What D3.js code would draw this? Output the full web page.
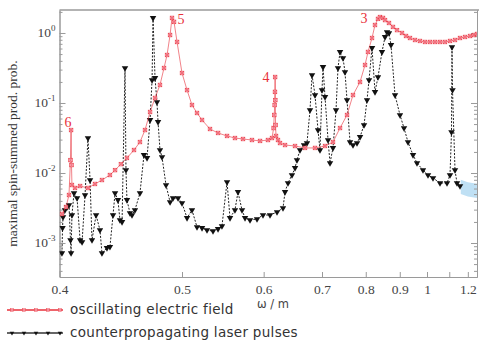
<!DOCTYPE html>
<html>
<head>
<meta charset="utf-8">
<script src="https://cdn.jsdelivr.net/npm/d3@7"></script>
<style>
  body { margin: 0; background: #fff; }
  svg { display: block; }
</style>
</head>
<body>
<div id="chart"></div>
<script>
// omega / m values and probabilities
var fieldOmega = [0.4016,0.4043,0.4063,0.4073,0.4077,0.4080,0.4083,0.4104,0.4139,0.4195,0.4246,0.4298,0.4359,0.4399,0.4446,0.4495,0.4554,0.4605,0.4649,0.4694,0.4739,0.4785,0.4823,0.4852,0.4881,0.4900,0.4920,0.4950,0.5000,0.5052,0.5104,0.5158,0.5213,0.5303,0.5397,0.5506,0.5606,0.5711,0.5833,0.5947,0.6064,0.6125,0.6150,0.6160,0.6166,0.6171,0.6173,0.6176,0.6180,0.6187,0.6218,0.6250,0.6331,0.6499,0.6676,0.6863,0.7061,0.7227,0.7380,0.7539,0.7680,0.7853,0.7981,0.8059,0.8167,0.8249,0.8333,0.8390,0.8478,0.8537,0.8657,0.8781,0.8909,0.9074,0.9211,0.9351,0.9533,0.9722,0.9919,1.0124,1.0338,1.056,1.079,1.1036,1.129,1.1557,1.1836,1.2129,1.2373,1.2564];
var fieldProb = [0.00260,0.00327,0.00485,0.0153,0.0411,0.0130,0.00674,0.00611,0.00652,0.00611,0.00697,0.00794,0.00936,0.0110,0.0134,0.0164,0.0213,0.0277,0.0411,0.0744,0.118,0.181,0.316,0.485,0.936,1.64,1.44,0.744,0.268,0.153,0.0936,0.0720,0.0572,0.0425,0.0373,0.0338,0.0316,0.0306,0.0296,0.0287,0.0296,0.0316,0.0439,0.0674,0.0936,0.144,0.235,0.110,0.0485,0.0338,0.0296,0.0268,0.0251,0.0243,0.0228,0.0228,0.0243,0.0277,0.0439,0.0674,0.130,0.1995,0.349,0.536,0.848,1.30,1.59,1.69,1.64,1.53,1.39,1.22,1.10,1.0,0.906,0.848,0.794,0.769,0.744,0.744,0.744,0.744,0.744,0.769,0.794,0.848,0.877,0.906,0.936,0.968];

var laserOmega = [0.4016,0.4020,0.4023,0.4036,0.4050,0.4063,0.4073,0.4077,0.4083,0.4097,0.4118,0.4139,0.4153,0.4174,0.4195,0.4210,0.4224,0.4254,0.4283,0.4298,0.4336,0.4359,0.4383,0.4399,0.4422,0.4438,0.4455,0.4479,0.4487,0.4495,0.4520,0.4537,0.4562,0.4605,0.4640,0.4667,0.4694,0.4712,0.4721,0.4739,0.4757,0.4767,0.4785,0.4804,0.4842,0.4881,0.4910,0.4960,0.5000,0.5052,0.5104,0.5158,0.5213,0.5269,0.5338,0.5397,0.5444,0.5506,0.5543,0.5606,0.5645,0.5698,0.5738,0.5806,0.5904,0.5990,0.6095,0.6203,0.6298,0.6331,0.6380,0.6447,0.6499,0.6533,0.6586,0.6658,0.6712,0.6768,0.6806,0.6863,0.6921,0.6960,0.7000,0.7020,0.7061,0.7123,0.7164,0.7227,0.7292,0.7335,0.7380,0.7447,0.7492,0.7539,0.7609,0.7680,0.7778,0.7853,0.7955,0.8033,0.8086,0.8167,0.8249,0.8333,0.8448,0.8537,0.8597,0.8657,0.8719,0.8845,0.9007,0.9142,0.9280,0.9460,0.9608,0.9839,1.0041,1.0251,1.0560,1.0889,1.1036,1.1111,1.1136,1.1162,1.1290,1.1395,1.1557];
var laserProb = [0.00072,0.00164,0.00235,0.00296,0.00327,0.00349,0.00110,0.00072,0.00251,0.00518,0.00439,0.00110,0.00103,0.00485,0.0316,0.00794,0.00110,0.00251,0.00153,0.00072,0.00085,0.00088,0.00251,0.00518,0.00412,0.00213,0.00200,0.316,0.0110,0.00412,0.00268,0.00251,0.00296,0.00518,0.0181,0.0164,0.0572,0.213,1.64,0.228,0.103,0.0536,0.0213,0.0169,0.00674,0.00385,0.00439,0.00439,0.00373,0.00228,0.00296,0.00169,0.00164,0.00153,0.00148,0.00159,0.00175,0.00744,0.00228,0.00296,0.00536,0.00296,0.00228,0.00213,0.00220,0.00251,0.00251,0.00277,0.00316,0.00536,0.00720,0.00936,0.0118,0.0153,0.0213,0.0251,0.0268,0.0794,0.251,0.130,0.0411,0.0213,0.153,0.327,0.122,0.0296,0.0139,0.0228,0.0794,0.316,0.536,0.439,0.277,0.110,0.0277,0.0251,0.0268,0.0327,0.0485,0.110,0.213,0.611,0.144,0.235,0.536,0.877,1.03,1.0,0.674,0.130,0.0674,0.0439,0.0277,0.0181,0.0139,0.0110,0.00936,0.00848,0.00720,0.00720,0.00936,0.0385,0.631,0.153,0.0110,0.00720,0.00652];

// pale blue patch at the right edge
var patchOmega = [1.16, 1.20, 1.256];
var patchLow = [0.0050, 0.0046, 0.0044];
var patchHigh = [0.0080, 0.0074, 0.0070];

var peakNames = ["6", "5", "4", "3"];
var peakOmega = [0.4077, 0.4900, 0.6173, 0.8390];
var peakProb = [0.0411, 1.64, 0.235, 1.69];

var xTicks = [0.4, 0.5, 0.6, 0.7, 0.8, 0.9, 1, 1.1, 1.2];
var xTickLabels = ["0.4", "0.5", "0.6", "0.7", "0.8", "0.9", "1", "", "1.2"];
var yMajor = [1, 0.1, 0.01, 0.001];
var yExp = ["0", "-1", "-2", "-3"];

var legendNames = ["oscillating electric field", "counterpropagating laser pulses"];

var W = 479, H = 342;
var mLeft = 59.5, mRight = 477, mTop = 10, mBottom = 277;

var svg = d3.select("#chart").append("svg")
  .attr("width", W).attr("height", H);

// x axis is linear in 1/omega
var xr = d3.scaleLinear().domain([1 / 0.4, 1 / 1.2564]).range([mLeft, mRight]);
var x = function(w) { return xr(1 / w); };
var y = d3.scaleLog().domain([3.27e-4, 2.13]).range([mBottom, mTop]);

var frameColor = "#9a9a9a";
var serif = "'Liberation Serif', 'Times New Roman', serif";

// light blue patch
svg.append("path")
  .datum(patchOmega.map(function(w, i) { return [w, patchLow[i], patchHigh[i]]; }))
  .attr("fill", "#bfe0f4")
  .attr("d", d3.area()
    .x(function(d) { return x(d[0]); })
    .y0(function(d) { return y(d[1]); })
    .y1(function(d) { return y(d[2]); }));

// axes
var xAxis = d3.axisBottom(xr)
  .tickValues(xTicks.map(function(t) { return 1 / t; }))
  .tickFormat(function(v, i) { return xTickLabels[i]; })
  .tickSizeInner(-5).tickSizeOuter(0).tickPadding(7);

var gx = svg.append("g")
  .attr("transform", "translate(0," + mBottom + ")")
  .call(xAxis);
gx.select(".domain").attr("stroke", frameColor);
gx.selectAll(".tick line").attr("stroke", frameColor);
gx.selectAll(".tick text")
  .attr("fill", "#444").style("font-family", serif).style("font-size", "13.5px");

var yMinor = [];
[0.0001, 0.001, 0.01, 0.1, 1].forEach(function(d) {
  for (var k = 2; k <= 9; k++) {
    var v = d * k;
    if (v > 3.27e-4 && v < 2.13) yMinor.push(v);
  }
});

function yAxes(g, axisFn, size, values) {
  g.call(axisFn(y).tickValues(values).tickFormat("").tickSizeInner(size).tickSizeOuter(0));
  g.select(".domain").attr("stroke", frameColor);
  g.selectAll(".tick line").attr("stroke", frameColor);
}
yAxes(svg.append("g").attr("transform", "translate(" + mLeft + ",0)"), d3.axisLeft, -6, yMajor);
yAxes(svg.append("g").attr("transform", "translate(" + mLeft + ",0)"), d3.axisLeft, -3, yMinor);
yAxes(svg.append("g").attr("transform", "translate(" + mRight + ",0)"), d3.axisRight, -6, yMajor);
yAxes(svg.append("g").attr("transform", "translate(" + mRight + ",0)"), d3.axisRight, -3, yMinor);

svg.append("line")
  .attr("x1", mLeft).attr("x2", W).attr("y1", mTop).attr("y2", mTop)
  .attr("stroke", frameColor).attr("stroke-width", 1.5);

// y tick labels with superscripts
var yl = svg.append("g").selectAll("text").data(yMajor).enter().append("text")
  .attr("x", mLeft - 4)
  .attr("y", function(d) { return y(d) + 4; })
  .attr("text-anchor", "end")
  .attr("fill", "#444")
  .style("font-family", serif).style("font-size", "13.5px");
yl.append("tspan").text("10");
yl.append("tspan").attr("dy", -6).style("font-size", "9px")
  .text(function(d, i) { return yExp[i]; });

svg.append("text")
  .attr("transform", "translate(17," + ((mTop + mBottom) / 2 + 10) + ") rotate(-90)")
  .attr("text-anchor", "middle")
  .attr("fill", "#333")
  .style("font-family", serif).style("font-size", "13.5px")
  .text("maximal spin-summed prod. prob.");

svg.append("text")
  .attr("x", 273).attr("y", 308)
  .attr("text-anchor", "middle")
  .attr("fill", "#444")
  .style("font-family", "'DejaVu Sans', sans-serif").style("font-size", "11.5px")
  .text("ω / m");

// clip
svg.append("clipPath").attr("id", "plot")
  .append("rect").attr("x", mLeft).attr("y", mTop).attr("width", mRight - mLeft).attr("height", mBottom - mTop);

var plot = svg.append("g").attr("clip-path", "url(#plot)");

var field = fieldOmega.map(function(w, i) { return [w, fieldProb[i]]; });
var laser = laserOmega.map(function(w, i) { return [w, laserProb[i]]; });

var line = d3.line()
  .x(function(d) { return x(d[0]); })
  .y(function(d) { return y(d[1]); });

var red = "#e8303a";
var tri = d3.symbol().type(d3.symbolTriangle).size(18);

function redMarker(g) {
  g.append("rect").attr("x", -1.8).attr("y", -1.8).attr("width", 3.6).attr("height", 3.6)
    .attr("fill", "#fcd").attr("stroke", red).attr("stroke-width", 0.7).attr("stroke-opacity", 0.85);
  g.append("path").attr("d", "M-1.8,-1.8L1.8,1.8M-1.8,1.8L1.8,-1.8")
    .attr("stroke", red).attr("stroke-width", 0.6);
}
function blackMarker(g) {
  g.append("path").attr("d", tri).attr("transform", "rotate(180)")
    .attr("fill", "#111");
}

// laser pulses (black, dashed)
plot.append("path").datum(laser)
  .attr("fill", "none").attr("stroke", "#222")
  .attr("stroke-width", 1).attr("stroke-dasharray", "2,1.5")
  .attr("d", line);
plot.append("g").selectAll("g").data(laser).enter().append("g")
  .attr("transform", function(d) { return "translate(" + x(d[0]) + "," + y(d[1]) + ")"; })
  .each(function() { blackMarker(d3.select(this)); });

// electric field (red)
plot.append("path").datum(field)
  .attr("fill", "none").attr("stroke", red).attr("stroke-opacity", 0.6)
  .attr("stroke-width", 1)
  .attr("d", line);
plot.append("g").selectAll("g").data(field).enter().append("g")
  .attr("transform", function(d) { return "translate(" + x(d[0]) + "," + y(d[1]) + ")"; })
  .each(function() { redMarker(d3.select(this)); });

// peak numbers
var peakDx = [-3, 9, -9, -16];
var peakDy = [-3, 6, 5, 6];
svg.append("g").selectAll("text").data(peakNames).enter().append("text")
  .attr("x", function(d, i) { return x(peakOmega[i]) + peakDx[i]; })
  .attr("y", function(d, i) { return y(peakProb[i]) + peakDy[i]; })
  .attr("text-anchor", "middle")
  .attr("fill", red)
  .style("font-family", serif).style("font-size", "14px")
  .text(function(d) { return d; });

// legend
var lg = svg.append("g").selectAll("g").data(legendNames).enter().append("g")
  .attr("transform", function(d, i) { return "translate(0," + (310 + i * 23) + ")"; });
lg.append("line")
  .attr("x1", 7).attr("x2", 63).attr("y1", 0).attr("y2", 0)
  .attr("stroke", function(d, i) { return i === 0 ? red : "#333"; })
  .attr("stroke-width", 1.5);
lg.each(function(d, i) {
  var g = d3.select(this);
  [12, 24, 36, 48, 60].forEach(function(px) {
    var m = g.append("g").attr("transform", "translate(" + px + ",0) scale(0.7)");
    if (i === 0) redMarker(m); else blackMarker(m);
  });
});
lg.append("text")
  .attr("x", 70).attr("y", 4)
  .attr("fill", "#333")
  .style("font-family", "'DejaVu Sans', sans-serif").style("font-size", "13.5px")
  .style("letter-spacing", "0.3px")
  .text(function(d) { return d; });
</script>
</body>
</html>
